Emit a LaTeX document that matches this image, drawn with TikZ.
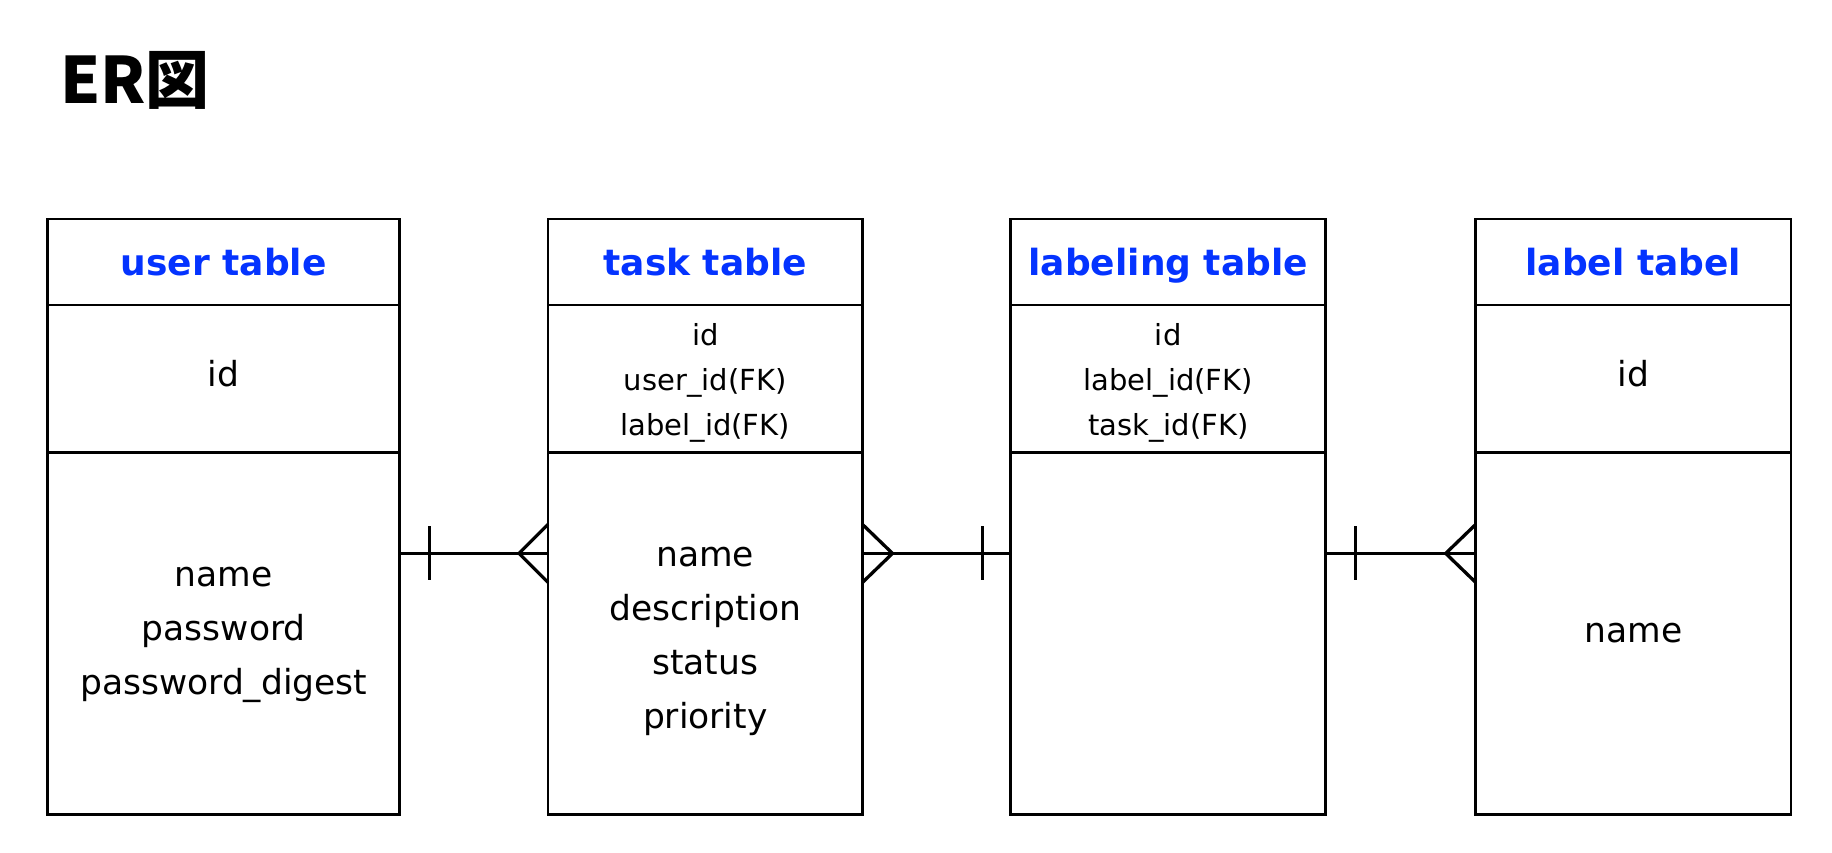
\documentclass[tikz,border=0pt]{standalone}
\usepackage{fontspec}
\setmainfont{DejaVu Sans}
\newfontfamily\cjkfont{Noto Sans CJK JP}
\usetikzlibrary{calc}
\definecolor{hdblue}{RGB}{4,51,255}
\begin{document}
\begin{tikzpicture}[x=1pt,y=-1pt,
  tbl/.style={draw,line width=2.5pt,rectangle,inner sep=0pt,outer sep=0pt,anchor=north west,align=center},
  hd/.style={tbl,minimum height=86pt,text=hdblue,font=\bfseries\fontsize{36}{44}\selectfont,text height=27.5pt,text depth=0pt},
  keys/.style={tbl,minimum height=147.5pt,font=\fontsize{29}{45}\selectfont},
  onekey/.style={tbl,minimum height=147.5pt,font=\fontsize{34.5}{54}\selectfont,text height=26pt,text depth=10pt},
  attrs/.style={tbl,minimum height=361.8pt,font=\fontsize{34.5}{54}\selectfont},
  conn/.style={line width=3.3pt},
]
\useasboundingbox (0,0) rectangle (1832,852);

\node[anchor=base west,inner sep=0pt,font=\cjkfont\bfseries\fontsize{64}{70}\selectfont] (title) at (60,103.3) {ER図};

% user table
\node[hd,minimum width=352pt] (uhd) at (47.7,219) {user table};
\node[onekey,minimum width=352pt] (ukey) at (47.7,305) {id};
\node[attrs,minimum width=352pt] (uatt) at (47.7,452.5) {\rule{0pt}{22pt}name\\password\\password\_digest};

% task table
\node[hd,minimum width=314.5pt] (thd) at (548,219) {task table};
\node[keys,minimum width=314.5pt] (tkey) at (548,305) {\rule{0pt}{31pt}id\\user\_id(FK)\\label\_id(FK)};
\node[attrs,minimum width=314.5pt] (tatt) at (548,452.5) {\rule{0pt}{36pt}name\\description\\status\\priority};

% labeling table
\node[hd,minimum width=315pt] (ghd) at (1010.7,219) {labeling table};
\node[keys,minimum width=315pt] (gkey) at (1010.7,305) {\rule{0pt}{31pt}id\\label\_id(FK)\\task\_id(FK)};
\node[attrs,minimum width=315pt] (gatt) at (1010.7,452.5) {};

% label table
\node[hd,minimum width=315.3pt] (bhd) at (1475.7,219) {label tabel};
\node[onekey,minimum width=315.3pt] (bkey) at (1475.7,305) {id};
\node[attrs,minimum width=315.3pt] (batt) at (1475.7,452.5) {name};

% connector user -> task (one to many)
\coordinate (c1a) at ([yshift=80pt]uatt.east);
\coordinate (c1b) at ([yshift=80pt]tatt.west);
\draw[conn] (c1a) -- (c1b);
\draw[conn] ($(c1a)+(30,-27)$) -- ($(c1a)+(30,27)$);
\draw[conn] ($(c1b)+(0,-29)$) -- ($(c1b)+(-29,0)$) -- ($(c1b)+(0,29)$);

% connector task -> labeling (many to one)
\coordinate (c2a) at ([yshift=80pt]tatt.east);
\coordinate (c2b) at ([yshift=80pt]gatt.west);
\draw[conn] (c2a) -- (c2b);
\draw[conn] ($(c2a)+(0,-29)$) -- ($(c2a)+(30,0)$) -- ($(c2a)+(0,29)$);
\draw[conn] ($(c2b)+(-28,-27)$) -- ($(c2b)+(-28,27)$);

% connector labeling -> label (one to many)
\coordinate (c3a) at ([yshift=80pt]gatt.east);
\coordinate (c3b) at ([yshift=80pt]batt.west);
\draw[conn] (c3a) -- (c3b);
\draw[conn] ($(c3a)+(30,-27)$) -- ($(c3a)+(30,27)$);
\draw[conn] ($(c3b)+(0,-29)$) -- ($(c3b)+(-30,0)$) -- ($(c3b)+(0,29)$);
\end{tikzpicture}
\end{document}
